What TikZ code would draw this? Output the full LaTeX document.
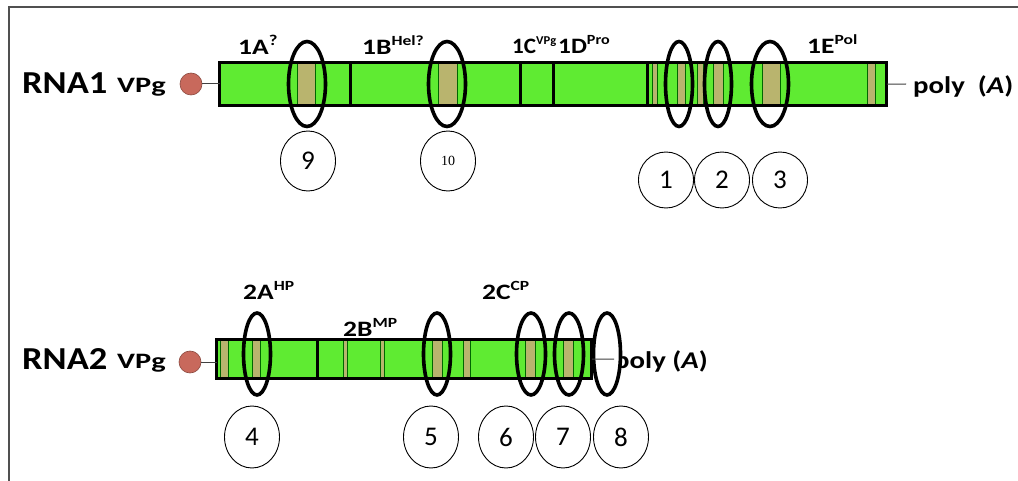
\documentclass[tikz,border=0pt]{standalone}
\usepackage{fontspec}
\setmainfont{Carlito}
\newfontfamily\serifx{Liberation Serif}
\usepackage{graphicx}
\usetikzlibrary{shapes.geometric}
\definecolor{bargreen}{RGB}{95,235,50}
\definecolor{bandtan}{RGB}{185,180,110}
\definecolor{vpgred}{RGB}{200,105,92}
\definecolor{framegray}{RGB}{80,80,80}
\newcommand\wtxt[2][1.25]{\scalebox{#1}[1]{#2}}
\newcommand\supx[2][14]{\raisebox{0.42em}{\fontsize{#1}{#1}\selectfont #2}}
\begin{document}
\begin{tikzpicture}[x=1pt,y=-1pt,
 lbl/.style={inner sep=0pt, anchor=base west, font=\bfseries\fontsize{22}{24}\selectfont},
 vplbl/.style={inner sep=0pt, anchor=base west, font=\bfseries\fontsize{22}{24}\selectfont},
 polylbl/.style={inner sep=0pt, anchor=base west, font=\bfseries\fontsize{24}{26}\selectfont},
 rnalbl/.style={inner sep=0pt, anchor=base west, font=\bfseries\fontsize{32}{36}\selectfont},
 barfill/.style={fill=bargreen, inner sep=0pt, anchor=north west},
 barline/.style={draw=black, line width=3pt},
 divline/.style={draw=black, line width=3pt},
 bandbox/.style={fill=bandtan, draw=black!60!green, line width=0.6pt},
 siteell/.style={ellipse, draw=black, line width=3.6pt, inner sep=0pt},
 numcirc/.style={ellipse, draw=black, line width=0.9pt, inner sep=0pt, minimum width=55pt, minimum height=60pt, font=\fontsize{27}{30}\selectfont},
 vpgdot/.style={circle, fill=vpgred, draw=vpgred!70!black, line width=0.6pt, minimum size=22pt, inner sep=0pt},
 tether/.style={draw=black!75, line width=1pt}
]
\useasboundingbox (0,0) rectangle (1018,481);
\fill[white] (0,0) rectangle (1018,481);
\draw[framegray, line width=2pt] (9,481) -- (9,7) -- (1018,7);

% ---------- RNA1 ----------
\node[rnalbl] (r1) at (22,94) {\wtxt[1.14]{RNA1}};
\node[vplbl] (vp1) at (117,93) {\wtxt[1.38]{VPg}};
\node[vpgdot] (v1) at (191,84) {};
\node[barfill, minimum width=667pt, minimum height=43pt] (bar1) at (219.5,62.5) {};
\foreach \a/\b in {297/315, 438/457, 652/657, 677/685, 697/703, 713/723, 762/780, 867/875}
  \draw[bandbox] (\a,62.5) rectangle (\b,105.5);
\foreach \x in {350,520,553,647}
  \draw[divline] (\x,62.5) -- (\x,105.5);
\draw[barline] (bar1.north west) rectangle (bar1.south east);
\draw[tether] (v1.east) -- (v1.east -| bar1.west);
\coordinate (pA1) at (906,84);
\draw[tether] (bar1.east) -- (pA1);
\node[polylbl] (poly1) at (913,94) {\wtxt[1.2]{poly\ \ (\textit{A})}};

\node[lbl] (l1A) at (238,55) {\wtxt{1A\supx[15]{?}}};
\node[lbl] (l1B) at (362,55) {\wtxt{1B\supx{Hel?}}};
\node[lbl] (l1C) at (512,54) {\wtxt[1.05]{1C\supx[12]{VPg}}};
\node[lbl] (l1D) at (558,54) {\wtxt[1.15]{1D\supx{Pro}}};
\node[lbl] (l1E) at (807,54) {\wtxt{1E\supx{Pol}}};

\node[siteell, minimum width=37pt, minimum height=85pt] (e9) at (307,84) {};
\node[siteell, minimum width=37pt, minimum height=85pt] (e10) at (447,84) {};
\node[siteell, minimum width=27pt, minimum height=85pt] (e1) at (679,84) {};
\node[siteell, minimum width=27pt, minimum height=85pt] (e2) at (718,84) {};
\node[siteell, minimum width=37pt, minimum height=85pt] (e3) at (770,84) {};

\node[numcirc] (c9) at (308,161) {9};
\node[numcirc] (c10) at (448,161) {\serifx\fontsize{14}{16}\selectfont 10};
\node[numcirc, minimum height=56pt] (c1) at (666,180) {1};
\node[numcirc, minimum height=56pt] (c2) at (722,180) {2};
\node[numcirc, minimum height=56pt] (c3) at (780,180) {3};

% ---------- RNA2 ----------
\node[rnalbl] (r2) at (22,369) {\wtxt[1.14]{RNA2}};
\node[vplbl] (vp2) at (117,368) {\wtxt[1.38]{VPg}};
\node[vpgdot] (v2) at (190,362) {};
\node[barfill, minimum width=375pt, minimum height=39pt] (bar2) at (216.5,339.5) {};
\foreach \a/\b in {220/228, 252/260, 343/347, 380/384, 432/442, 463/470, 525/535, 563/573}
  \draw[bandbox] (\a,339.5) rectangle (\b,378.5);
\draw[divline] (317,339.5) -- (317,378.5);
\draw[barline] (bar2.north west) rectangle (bar2.south east);
\draw[tether] (v2.east) -- (v2.east -| bar2.west);

\node[lbl] (l2A) at (243,300) {\wtxt{2A\supx{HP}}};
\node[lbl] (l2B) at (343,337) {\wtxt{2B\supx{MP}}};
\node[lbl] (l2C) at (482,300) {\wtxt{2C\supx{CP}}};
\node[polylbl] (poly2) at (614,368) {\wtxt[1.2]{poly (\textit{A})}};

\node[siteell, minimum width=27pt, minimum height=82pt] (e4) at (257,354) {};
\node[siteell, minimum width=27pt, minimum height=82pt] (e5) at (437,354) {};
\node[siteell, minimum width=29pt, minimum height=82pt] (e6) at (531,354) {};
\node[siteell, minimum width=29pt, minimum height=82pt] (e7) at (569,354) {};
\node[siteell, fill=white, minimum width=27pt, minimum height=82pt] (e8) at (607,354) {};
\coordinate (pA2) at (614,359);
\draw[tether] (bar2.east) -- (pA2);

\node[numcirc, minimum height=62pt] (c4) at (252,437) {4};
\node[numcirc, minimum height=62pt] (c5) at (431,437) {5};
\node[numcirc, minimum height=62pt] (c6) at (506,437) {6};
\node[numcirc, minimum height=62pt] (c7) at (563,437) {7};
\node[numcirc, minimum height=62pt] (c8) at (621,437) {8};
\end{tikzpicture}
\end{document}
